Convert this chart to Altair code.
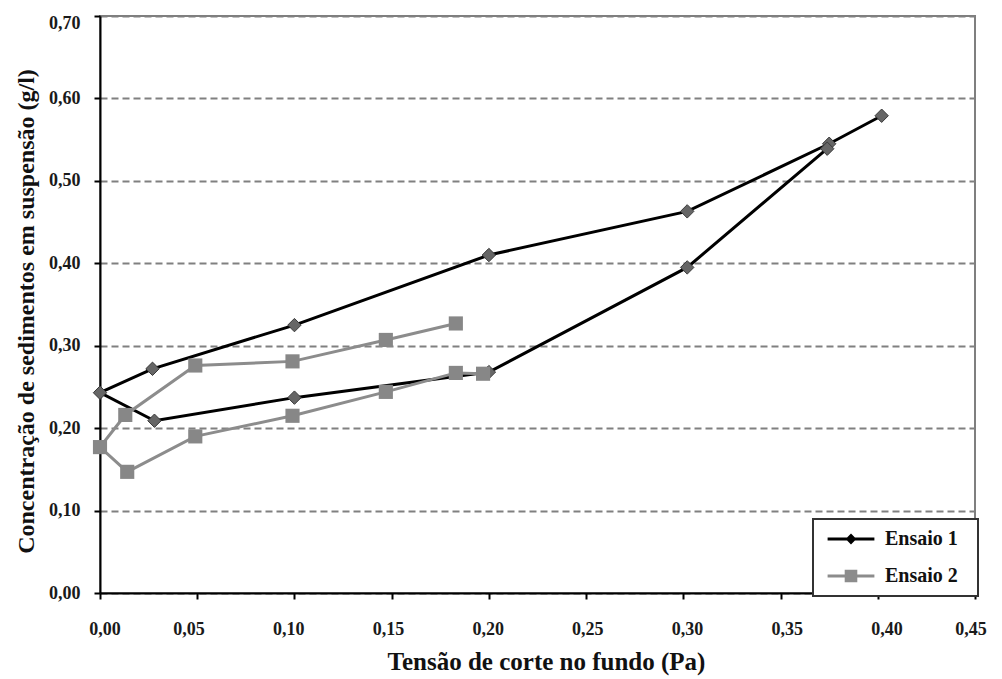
import altair as alt
import pandas as pd

# Ensaio 1 (path order as drawn)
e1_x = [0.402, 0.375, 0.302, 0.200, 0.100, 0.027, 0.000, 0.028, 0.100, 0.200, 0.302, 0.374]
e1_y = [0.579, 0.545, 0.463, 0.410, 0.325, 0.272, 0.243, 0.209, 0.237, 0.268, 0.395, 0.539]
# Ensaio 2
e2_x = [0.183, 0.147, 0.099, 0.049, 0.013, 0.000, 0.014, 0.049, 0.099, 0.147, 0.183, 0.197]
e2_y = [0.327, 0.307, 0.281, 0.276, 0.216, 0.177, 0.147, 0.190, 0.215, 0.244, 0.267, 0.266]

series = ["Ensaio 1", "Ensaio 2"]
x_ticks = [0.00, 0.05, 0.10, 0.15, 0.20, 0.25, 0.30, 0.35, 0.40, 0.45]
y_ticks = [0.00, 0.10, 0.20, 0.30, 0.40, 0.50, 0.60, 0.70]

rows = []
for i, (x, y) in enumerate(zip(e1_x, e1_y)):
    rows.append({"serie": series[0], "ord": i, "x": x, "y": y})
for i, (x, y) in enumerate(zip(e2_x, e2_y)):
    rows.append({"serie": series[1], "ord": i, "x": x, "y": y})
df = pd.DataFrame(rows)

FONT = "'Liberation Serif', 'Times New Roman', Times, serif"
fmt = "replace(format(datum.value, '.2f'), '.', ',')"

x_enc = alt.X("x:Q",
              scale=alt.Scale(domain=[0, 0.45], nice=False),
              axis=alt.Axis(values=x_ticks, labelExpr=fmt, grid=False,
                            title="Tensão de corte no fundo (Pa)",
                            titleFont=FONT, titleFontSize=25, titleFontWeight="bold",
                            titleColor="#111", titleBaseline="top", titleY=56,
                            titleX=446, titleAlign="center",
                            labelFont=FONT, labelFontSize=18, labelFontWeight="bold",
                            labelColor="#1a1a1a", labelPadding=21,
                            labelOffset={"expr": "(datum.value - 0.225) * 50"},
                            domainColor="#000", domainWidth=2,
                            tickColor="#000", tickWidth=2, tickSize=6))
y_enc = alt.Y("y:Q",
              scale=alt.Scale(domain=[0, 0.70], nice=False),
              axis=alt.Axis(values=y_ticks, labelExpr=fmt, grid=True,
                            gridColor="#808080", gridDash=[7, 4], gridWidth=2,
                            title="Concentração de sedimentos em suspensão (g/l)",
                            titleFont=FONT, titleFontSize=24, titleFontWeight="bold",
                            titleColor="#111", titleAngle=270, titleBaseline="middle",
                            titleAlign="center", titleX=-74, titleY=295,
                            labelFont=FONT, labelFontSize=18, labelFontWeight="bold",
                            labelColor="#1a1a1a", labelPadding=14,
                            labelOffset={"expr": "datum.value > 0.65 ? 7 : 0"},
                            domainColor="#000", domainWidth=2,
                            tickColor="#000", tickWidth=2, tickSize=6))

sym_expr = ("datum.value == 'Ensaio 1' ? "
            "'M-2.6,-0.17L2.6,-0.17L2.6,0.17L-2.6,0.17ZM0,-0.6L0.6,0L0,0.6L-0.6,0Z' : "
            "'M-2.6,-0.17L2.6,-0.17L2.6,0.17L-2.6,0.17ZM-0.7,-0.7L0.7,-0.7L0.7,0.7L-0.7,0.7Z'")
fill_expr = "datum.value == 'Ensaio 1' ? '#000000' : '#8c8c8c'"

lines = alt.Chart(df).mark_line(strokeWidth=3).encode(
    x=x_enc, y=y_enc, order="ord:Q",
    stroke=alt.Stroke("serie:N",
                      scale=alt.Scale(domain=series, range=["#000000", "#8c8c8c"]),
                      legend=alt.Legend(title=None, orient="none", legendX=713, legendY=503,
                                        fillColor="#ffffff", strokeColor="#333333",
                                        padding=10, rowPadding=17, symbolSize=324,
                                        symbolOffset=18, labelOffset=24,
                                        symbolType={"expr": sym_expr},
                                        symbolFillColor={"expr": fill_expr},
                                        symbolStrokeColor={"expr": fill_expr},
                                        symbolStrokeWidth=0,
                                        labelFont=FONT, labelFontSize=20, labelFontWeight="bold",
                                        labelColor="#111",
                                        labelExpr="datum.label + '\u00a0\u00a0\u200b'")),
)

is_e1 = "datum.serie == 'Ensaio 1'"
points = alt.Chart(df).mark_point(filled=True, opacity=1).encode(
    x="x:Q", y="y:Q",
    shape=alt.condition(is_e1, alt.value("diamond"), alt.value("square")),
    fill=alt.condition(is_e1, alt.value("#666666"), alt.value("#878787")),
    size=alt.condition(is_e1, alt.value(180), alt.value(200)),
    strokeWidth=alt.value(1),
    stroke=alt.value("#3a3a3a"),
    strokeOpacity=alt.condition(is_e1, alt.value(1), alt.value(0)),
)

chart = alt.layer(lines, points).properties(
    width=875, height=577,
    autosize="none",
    padding={"left": 100, "top": 16, "right": 27, "bottom": 86},
    background="#ffffff",
).configure_view(
    stroke="#7f7f7f", strokeWidth=2
).configure_legend(
    strokeWidth=2
)

chart.save("out.html", embed_options={"renderer": "svg", "actions": False})
